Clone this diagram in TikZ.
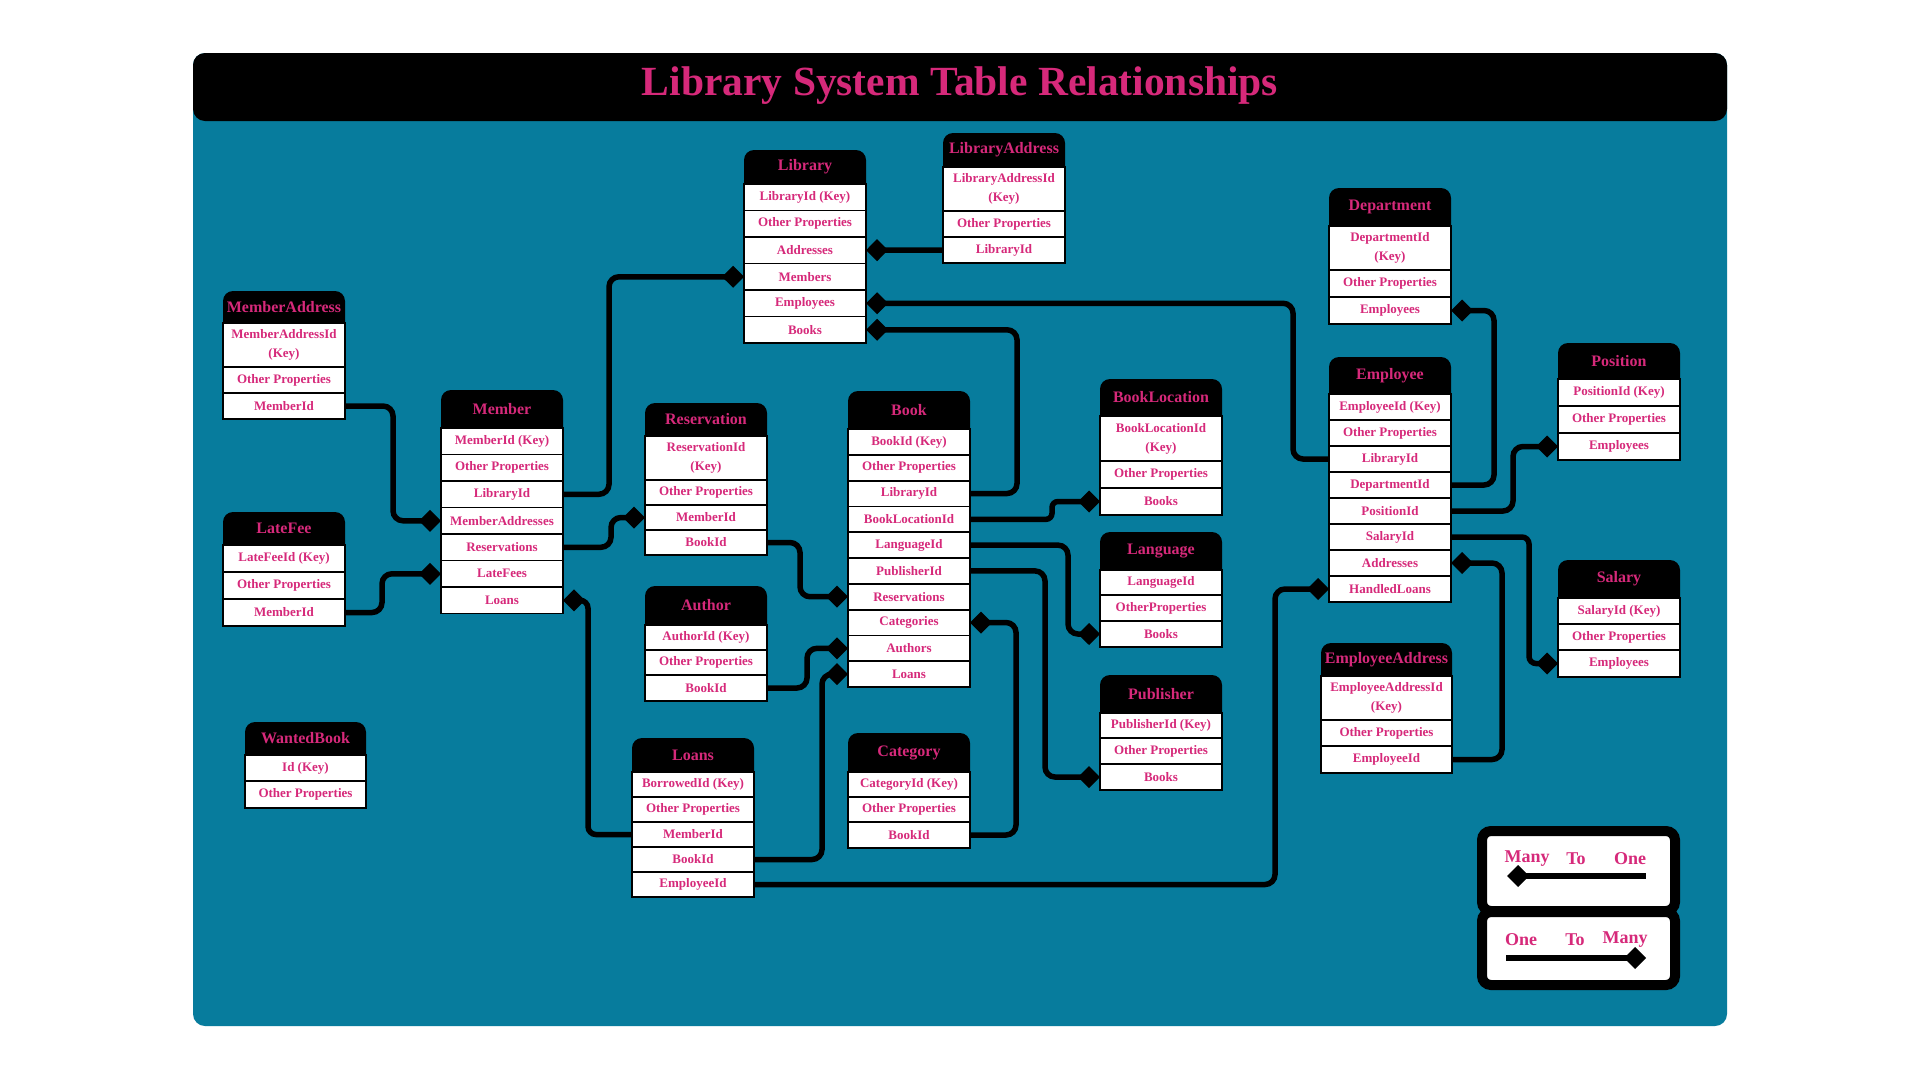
\documentclass[tikz,border=0pt]{standalone}
\usepackage{fontspec}
\setmainfont{Liberation Serif}
\usetikzlibrary{arrows.meta}
\definecolor{panelteal}{RGB}{7,124,157}
\definecolor{pinktxt}{RGB}{214,41,122}
\tikzset{
  rowbox/.style={draw=black, fill=white, line width=1.8pt, inner sep=0pt, outer sep=0pt,
    align=center, text=pinktxt, font=\bfseries\fontsize{13}{19}\selectfont},
  hdrtext/.style={inner sep=0pt, outer sep=0pt, text=pinktxt, font=\bfseries\fontsize{16}{18}\selectfont},
  conn/.style={draw=black, line width=5.5pt, rounded corners=10pt},
  tomany/.style={-{Diamond[length=22pt,width=22pt]}},
  frommany/.style={{Diamond[length=22pt,width=22pt]}-},
  legframe/.style={draw=black, fill=white, line width=10pt, rounded corners=9pt, inner sep=0pt, outer sep=0pt},
  legtext/.style={inner sep=0pt, text=pinktxt, font=\bfseries\fontsize{18}{20}\selectfont},
  titletext/.style={inner sep=0pt, text=pinktxt, font=\bfseries\fontsize{41.5}{46}\selectfont}
}
\newcommand{\dbtable}[7]{%
  \fill[black, rounded corners=10pt] (#2,#3) rectangle ++(#4,#5+12);
  \node[hdrtext, minimum width=#4pt, minimum height=#5pt, anchor=north west] (#1-0) at (#2,#3) {#6};
  \foreach \rowh/\rowt [count=\i, remember=\i as \j (initially 0)] in {#7} {
    \node[rowbox, minimum width=#4pt, minimum height=\rowh pt, anchor=north west] (#1-\i) at (#1-\j.south west) {\rowt};
  }
}
\begin{document}
\begin{tikzpicture}[x=1pt, y=-1pt]
\useasboundingbox (0,0) rectangle (1920,1080);
\fill[white] (0,0) rectangle (1920,1080);
% panel and title bar
\fill[panelteal, rounded corners=12pt] (193,53) rectangle (1727,1026);
\fill[black, rounded corners=12pt] (193,53) rectangle (1727,121);
\node[titletext] (title) at (960,86) {Library System Table Relationships};

% tables
\dbtable{mad}{223}{291}{122}{32}{MemberAddress}{44/{MemberAddressId\\(Key)}, 26/Other Properties, 26/MemberId}
\dbtable{lf}{223}{512}{122}{33}{LateFee}{27/LateFeeId (Key), 27/Other Properties, 27/MemberId}
\dbtable{mem}{441}{390}{122}{38}{Member}{26.5/MemberId (Key), 26.5/Other Properties, 26.5/LibraryId, 26.5/MemberAddresses, 26.5/Reservations, 26.5/LateFees, 26.5/Loans}
\dbtable{wb}{245}{722}{121}{33}{WantedBook}{26/Id (Key), 27/Other Properties}
\dbtable{lib}{744}{150}{122}{34}{Library}{26.5/LibraryId (Key), 26.5/Other Properties, 26.5/Addresses, 26.5/Members, 26.5/Employees, 26.5/Books}
\dbtable{la}{943}{133}{122}{34}{LibraryAddress}{44/{LibraryAddressId\\(Key)}, 26/Other Properties, 26/LibraryId}
\dbtable{res}{645}{403}{122}{33}{Reservation}{44/{ReservationId\\(Key)}, 25/Other Properties, 25/MemberId, 25/BookId}
\dbtable{auth}{645}{586}{122}{39}{Author}{25/AuthorId (Key), 25/Other Properties, 26/BookId}
\dbtable{loans}{632}{738}{122}{34}{Loans}{25/BorrowedId (Key), 25/Other Properties, 25/MemberId, 25/BookId, 25/EmployeeId}
\dbtable{book}{848}{391}{122}{38}{Book}{25.8/BookId (Key), 25.8/Other Properties, 25.8/LibraryId, 25.8/BookLocationId, 25.8/LanguageId, 25.8/PublisherId, 25.8/Reservations, 25.8/Categories, 25.8/Authors, 25.8/Loans}
\dbtable{cat}{848}{733}{122}{39}{Category}{25/CategoryId (Key), 25/Other Properties, 26/BookId}
\dbtable{bl}{1100}{379}{122}{37}{BookLocation}{45/{BookLocationId\\(Key)}, 27/Other Properties, 27/Books}
\dbtable{lang}{1100}{532}{122}{38}{Language}{25/LanguageId, 26/OtherProperties, 26/Books}
\dbtable{pub}{1100}{675}{122}{38}{Publisher}{25/PublisherId (Key), 26/Other Properties, 26/Books}
\dbtable{dep}{1329}{188}{122}{38}{Department}{44/{DepartmentId\\(Key)}, 27/Other Properties, 27/Employees}
\dbtable{emp}{1329}{357}{122}{37}{Employee}{26/EmployeeId (Key), 26/Other Properties, 26/LibraryId, 26/DepartmentId, 26/PositionId, 26/SalaryId, 26/Addresses, 26/HandledLoans}
\dbtable{pos}{1558}{343}{122}{36}{Position}{27/PositionId (Key), 27/Other Properties, 27/Employees}
\dbtable{sal}{1558}{560}{122}{38}{Salary}{26/SalaryId (Key), 26/Other Properties, 27/Employees}
\dbtable{ea}{1321}{643}{131}{33}{EmployeeAddress}{44/{EmployeeAddressId\\(Key)}, 26/Other Properties, 27/EmployeeId}

% connectors (diamond = many side)
\draw[conn, tomany] (mad-3.east) -- ++(48,0) |- (mem-4.west);
\draw[conn, tomany] (lf-3.east) -- ++(37,0) |- (mem-6.west);
\draw[conn, tomany] (mem-3.east) -- ++(46,0) |- (lib-4.west);
\draw[conn, tomany] (mem-5.east) -- ++(48,0) |- (res-3.west);
\draw[conn, tomany] (res-4.east) -- ++(33,0) |- (book-7.west);
\draw[conn, tomany] (auth-3.east) -- ++(40,0) |- (book-9.west);
\draw[conn, tomany] (loans-4.east) -- ++(68,0) |- (book-10.west);
\draw[conn, tomany, rounded corners=8pt] (loans-3.west) -- ++(-44,0) |- (mem-7.east);
\draw[conn, tomany] (book-3.east) -- ++(47,0) |- (lib-6.east);
\draw[conn, tomany, rounded corners=6pt] (book-4.east) -- ++(82,0) |- (bl-3.west);
\draw[conn, tomany] (book-5.east) -- ++(98,0) |- (lang-3.west);
\draw[conn, tomany] (book-6.east) -- ++(75,0) |- (pub-3.west);
\draw[conn, tomany] (cat-3.east) -- ++(46,0) |- (book-8.east);
\draw[conn, tomany] (emp-3.west) -- ++(-36,0) |- (lib-5.east);
\draw[conn, tomany] (emp-4.east) -- ++(43,0) |- (dep-3.east);
\draw[conn, tomany] (emp-5.east) -- ++(62,0) |- (pos-3.west);
\draw[conn, tomany, rounded corners=7pt] (emp-6.east) -- ++(78,0) |- (sal-3.west);
\draw[conn, tomany] (ea-3.east) -- ++(50,0) |- (emp-7.east);
\draw[conn, tomany] (loans-5.east) -- ++(521,0) |- (emp-8.west);
\draw[conn, tomany] (la-3.west) -- (lib-3.east);

% legend
\node[legframe, minimum width=193pt, minimum height=80pt, anchor=north west] (legA) at (1482,831) {};
\node[legframe, minimum width=193pt, minimum height=73pt, anchor=north west] (legB) at (1482,912) {};
\node[legtext] (legA-many) at (1527,859) {Many};
\node[legtext] (legA-to) at (1576,859) {To};
\node[legtext] (legA-one) at (1630,859) {One};
\node[legtext] (legB-one) at (1521,940) {One};
\node[legtext] (legB-to) at (1575,940) {To};
\node[legtext] (legB-many) at (1625,940) {Many};
\coordinate (lgA1) at (1507,876);
\coordinate (lgA2) at (1646,876);
\coordinate (lgB1) at (1506,958);
\coordinate (lgB2) at (1646,958);
\draw[conn, frommany] (lgA1) -- (lgA2);
\draw[conn, tomany] (lgB1) -- (lgB2);
\end{tikzpicture}
\end{document}
